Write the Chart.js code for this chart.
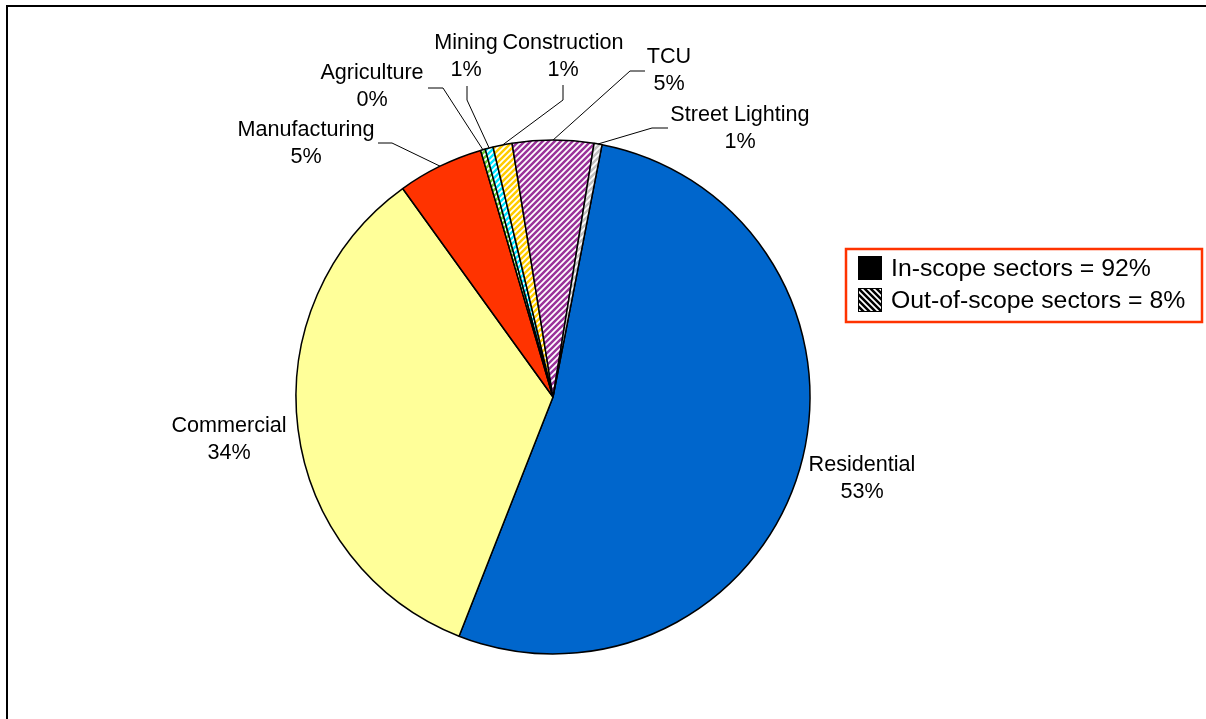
<!DOCTYPE html>
<html>
<head>
<meta charset="utf-8">
<script src="https://cdn.jsdelivr.net/npm/chart.js@4.4.1/dist/chart.umd.min.js"></script>
<style>
  html, body { margin: 0; padding: 0; background: #fff; }
  #wrap { position: relative; width: 1206px; height: 719px; }
</style>
</head>
<body>
<div id="wrap"><canvas id="pie" width="1206" height="719"></canvas></div>
<script>
/* electricity use by sector, share of total (%) */
const sectors = ['Residential', 'Commercial', 'Manufacturing', 'Agriculture', 'Mining', 'Construction', 'TCU', 'Street Lighting'];
const shares = [52.9, 34.1, 5.4, 0.3, 0.5, 1.2, 5.1, 0.5];
const inScope = [true, true, true, false, false, false, false, false];
const legendNames = ['In-scope sectors', 'Out-of-scope sectors'];

const FONT = '"Liberation Sans", Arial, sans-serif';

function hatch(color, back, dir) {
  const s = 6;
  const c = document.createElement('canvas');
  c.width = s; c.height = s;
  const g = c.getContext('2d');
  g.fillStyle = back;
  g.fillRect(0, 0, s, s);
  g.strokeStyle = color;
  g.lineWidth = 2.5;
  g.beginPath();
  if (dir === 'up') {
    g.moveTo(-1, s + 1); g.lineTo(s + 1, -1);
    g.moveTo(-1, 1); g.lineTo(1, -1);
    g.moveTo(s - 1, s + 1); g.lineTo(s + 1, s - 1);
  } else {
    g.moveTo(-1, -1); g.lineTo(s + 1, s + 1);
    g.moveTo(s - 1, -1); g.lineTo(s + 1, 1);
    g.moveTo(-1, s - 1); g.lineTo(1, s + 1);
  }
  g.stroke();
  return g.createPattern(c, 'repeat');
}

const fills = [
  '#0066CC',
  '#FFFF99',
  '#FF3300',
  hatch('#66CC33', '#ffffff', 'up'),
  hatch('#00E5FF', '#ffffff', 'up'),
  hatch('#FFCC00', '#ffffff', 'up'),
  hatch('#993399', '#ffffff', 'up'),
  hatch('#C0C0C0', '#ffffff', 'up')
];

// label placement relative to pie centre (first text line), plus leader attach/elbow points
const labelSpots = [
  { dx: 309, dy: 68 },
  { dx: -324, dy: 29 },
  { dx: -247, dy: -267, attach: [-175, -254], elbow: [-161, -254] },
  { dx: -181, dy: -324, attach: [-125, -309], elbow: [-110, -309] },
  { dx: -87, dy: -354, attach: [-86, -311], elbow: [-86, -297] },
  { dx: 10, dy: -354, attach: [10, -312], elbow: [10, -297] },
  { dx: 116, dy: -340, attach: [92, -326], elbow: [77, -326] },
  { dx: 187, dy: -282, attach: [115, -269], elbow: [99, -269] }
];

const total = shares.reduce((a, b) => a + b, 0);
const pct = v => Math.round(v / total * 100) + '%';

const labelPlugin = {
  id: 'sliceLabels',
  afterDatasetsDraw(chart) {
    const c = chart.ctx;
    const arcs = chart.getDatasetMeta(0).data;
    c.save();
    c.font = '21.6px ' + FONT;
    c.fillStyle = '#000';
    c.textAlign = 'center';
    c.textBaseline = 'middle';
    c.strokeStyle = '#000';
    c.lineWidth = 1;
    arcs.forEach((arc, i) => {
      const p = arc.getProps(['x', 'y', 'startAngle', 'endAngle', 'outerRadius'], true);
      const spot = labelSpots[i];
      if (spot.attach) {
        const mid = (p.startAngle + p.endAngle) / 2;
        c.beginPath();
        c.moveTo(p.x + spot.attach[0], p.y + spot.attach[1]);
        c.lineTo(p.x + spot.elbow[0], p.y + spot.elbow[1]);
        c.lineTo(p.x + Math.cos(mid) * p.outerRadius, p.y + Math.sin(mid) * p.outerRadius);
        c.stroke();
      }
      c.fillText(sectors[i], p.x + spot.dx, p.y + spot.dy);
      c.fillText(pct(shares[i]), p.x + spot.dx, p.y + spot.dy + 27);
    });
    c.restore();
  }
};

const framePlugin = {
  id: 'frameAndKey',
  afterDraw(chart) {
    const c = chart.ctx;
    c.save();
    // outer frame (top and left edges only)
    c.fillStyle = '#000';
    c.fillRect(6, 5, 1200, 2);
    c.fillRect(6, 5, 2, 714);

    // key box
    c.strokeStyle = '#FF3300';
    c.lineWidth = 2.5;
    c.strokeRect(846, 249, 356, 73);

    const inSum = shares.filter((v, i) => inScope[i]).reduce((a, b) => a + b, 0);
    const rows = [
      { name: legendNames[0], val: pct(inSum), fill: '#000' },
      { name: legendNames[1], val: pct(total - inSum), fill: hatch('#000', '#fff', 'down') }
    ];
    c.font = '24.8px ' + FONT;
    c.textAlign = 'left';
    c.textBaseline = 'middle';
    rows.forEach((r, i) => {
      const y = 268 + i * 32;
      c.fillStyle = r.fill;
      c.fillRect(858, y - 12, 24, 24);
      c.strokeStyle = '#000';
      c.lineWidth = 1;
      c.strokeRect(858.5, y - 11.5, 23, 23);
      c.fillStyle = '#000';
      c.fillText(r.name + ' = ' + r.val, 891, y + 1);
    });
    c.restore();
  }
};

new Chart(document.getElementById('pie').getContext('2d'), {
  type: 'pie',
  data: {
    labels: sectors,
    datasets: [{
      data: shares,
      backgroundColor: fills,
      borderColor: '#000',
      borderWidth: 1.5
    }]
  },
  options: {
    responsive: false,
    animation: false,
    events: [],
    rotation: 11,
    radius: 257,
    layout: { padding: { left: 0, right: 100, top: 75, bottom: 0 } },
    plugins: {
      legend: { display: false },
      tooltip: { enabled: false }
    }
  },
  plugins: [labelPlugin, framePlugin]
});
</script>
</body>
</html>
